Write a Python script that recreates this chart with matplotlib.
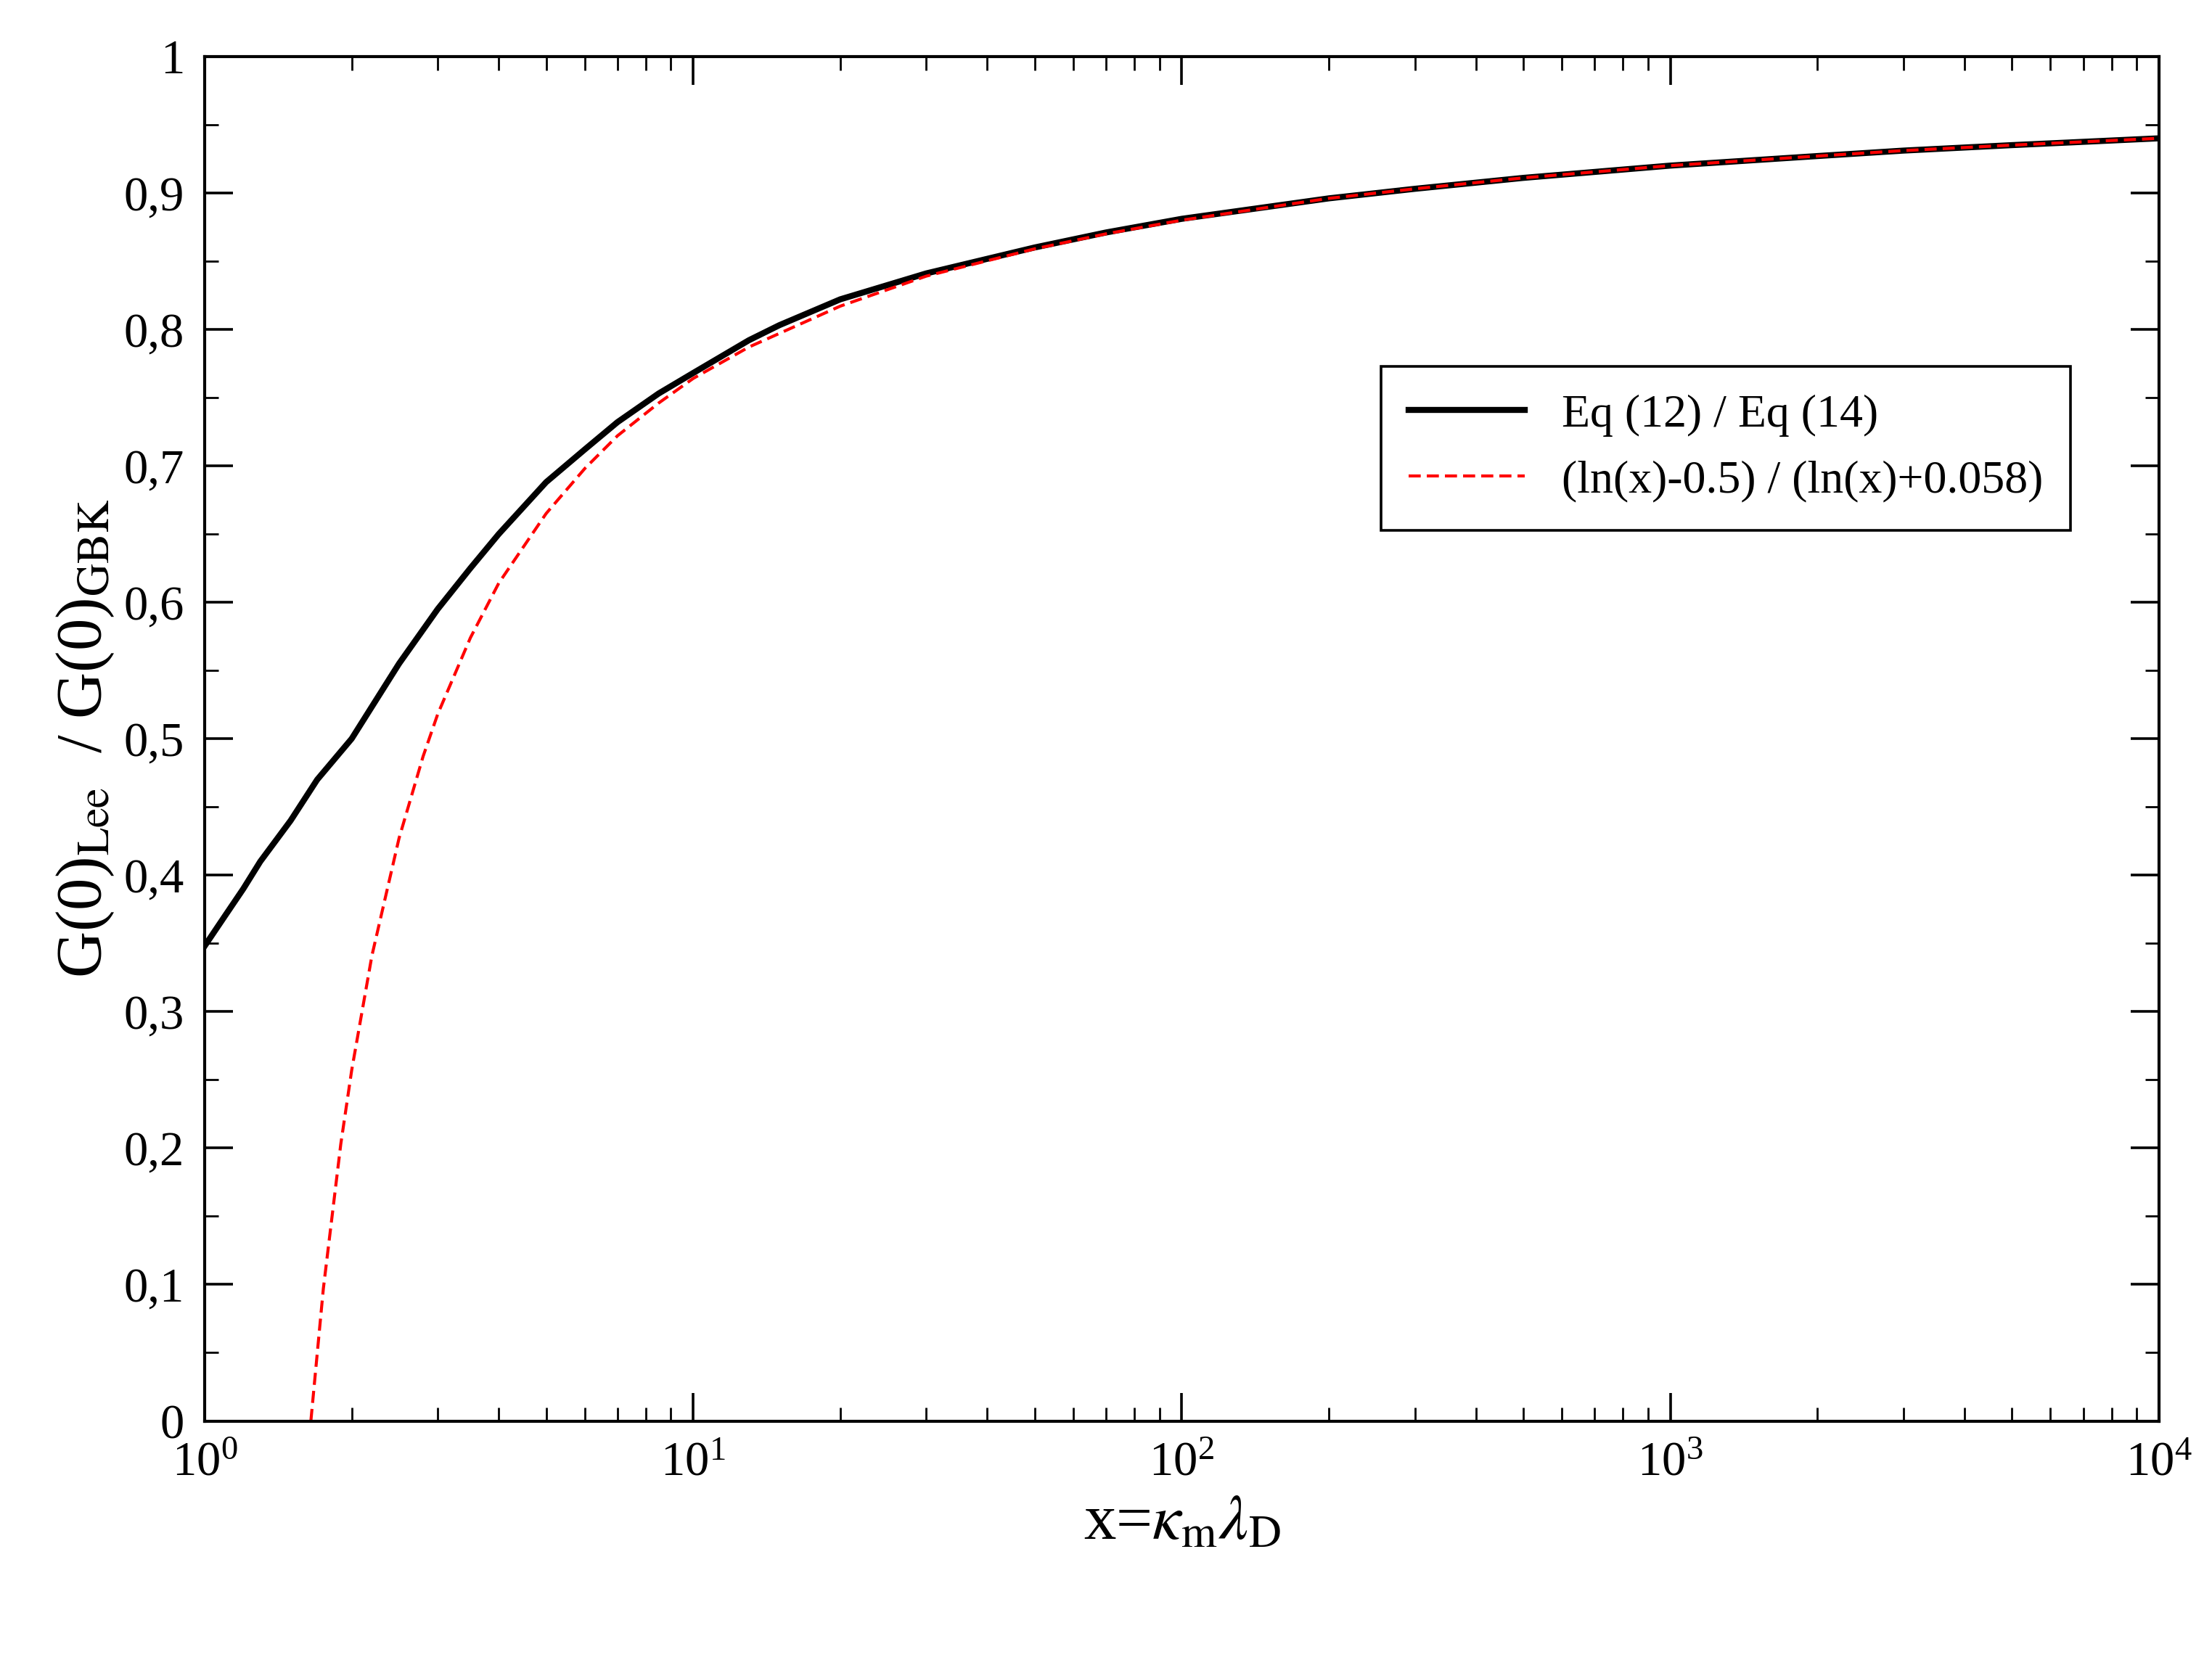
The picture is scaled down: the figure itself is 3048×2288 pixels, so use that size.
import matplotlib.pyplot as plt
from matplotlib.ticker import LogLocator, MultipleLocator, NullFormatter

plt.rcParams['font.family'] = 'Liberation Serif'
plt.rcParams['mathtext.fontset'] = 'stix'

# ===== DATA =====
x_eq = [1, 1.1, 1.2, 1.3, 1.5, 1.7, 2, 2.5, 3, 3.5, 4, 5, 6, 7, 8.5, 10, 13, 15,
        20, 30, 50, 70, 100, 200, 300, 500, 1000, 2000, 3000, 5000, 10000]
y_eq = [0.348, 0.37, 0.39, 0.41, 0.44, 0.47, 0.50, 0.555, 0.595, 0.625, 0.65, 0.688,
        0.712, 0.732, 0.753, 0.768, 0.792, 0.803, 0.822, 0.841, 0.86, 0.871, 0.881,
        0.896, 0.903, 0.911, 0.920, 0.927, 0.931, 0.935, 0.940]

x_fit = [1.65, 1.75, 1.9, 2.0, 2.2, 2.5, 2.8, 3, 3.5, 4, 5, 6, 7, 8.5, 10, 13, 20,
         30, 50, 70, 100, 200, 300, 500, 1000, 2000, 3000, 5000, 10000]
y_fit = [0.0, 0.097, 0.203, 0.257, 0.341, 0.427, 0.487, 0.518, 0.574, 0.614, 0.665,
         0.698, 0.722, 0.746, 0.764, 0.787, 0.817, 0.839, 0.859, 0.870, 0.880,
         0.896, 0.903, 0.911, 0.920, 0.927, 0.931, 0.935, 0.940]

fig = plt.figure(figsize=(15.24, 11.44), dpi=200)
ax = fig.add_axes([0.0925, 0.144, 0.8835, 0.822])

ax.plot(x_eq, y_eq, color='black', linewidth=3, label='Eq (12) / Eq (14)')
ax.plot(x_fit, y_fit, color='red', linewidth=1.5, linestyle=(0, (4, 2)),
        label='(ln(x)-0.5) / (ln(x)+0.058)')

ax.set_xscale('log')
ax.set_xlim(1, 1e4)
ax.set_ylim(0, 1)
ax.yaxis.set_minor_locator(MultipleLocator(0.05))
ax.set_yticks([i / 10 for i in range(11)])
ax.set_yticklabels(['0'] + [f'0,{i}' for i in range(1, 10)] + ['1'])
ax.xaxis.set_minor_locator(LogLocator(base=10, subs=range(2, 10)))
ax.xaxis.set_minor_formatter(NullFormatter())

ax.tick_params(which='both', direction='in', top=True, right=True, labelsize=24, pad=10)
ax.tick_params(which='major', length=14, width=1.3)
ax.tick_params(which='minor', length=7, width=1.0)
for s in ax.spines.values():
    s.set_linewidth(1.5)

ax.set_xlabel(r'x=$\kappa_{\rm m}\lambda_{\rm D}$', fontsize=32)
ax.set_ylabel(r'G(0)$_{\rm Lee}$  / G(0)$_{\rm GBK}$', fontsize=32)

leg = ax.legend(loc='upper left', bbox_to_anchor=(0.59, 0.79), fontsize=23,
                fancybox=False, edgecolor='black', framealpha=1,
                handlelength=2.5, borderpad=0.6)
leg.get_frame().set_linewidth(1.3)

plt.savefig('out.png', dpi=200)
